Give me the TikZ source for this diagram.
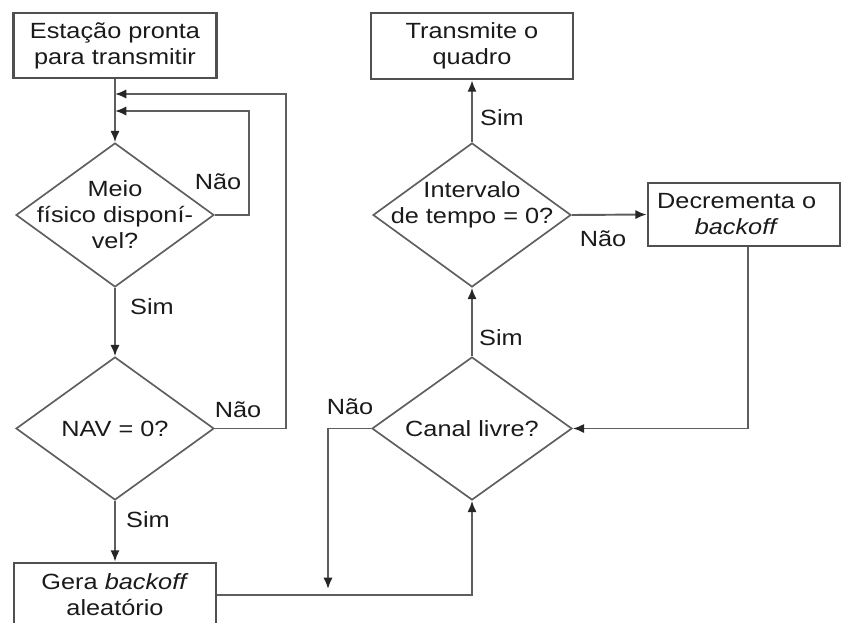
\documentclass[tikz,border=0pt]{standalone}
\usepackage{fontspec}
\setmainfont{Liberation Sans}[FakeStretch=1.15]
\usetikzlibrary{shapes.geometric,arrows.meta}
\definecolor{ln}{HTML}{5E5E5E}
\definecolor{bx}{HTML}{505050}
\definecolor{tx}{HTML}{1A1A1A}
\definecolor{ah}{HTML}{262626}
\begin{document}
\begin{tikzpicture}[x=0.75pt,y=-0.75pt,
  font=\fontsize{16.5}{19.5}\selectfont, text=tx,
  boxnode/.style={draw=bx, line width=2.1pt, rectangle, inner sep=0pt, align=center},
  dianode/.style={draw=ln, line width=1.25pt, diamond, inner sep=0pt},
  conn/.style={draw=ln, line width=1.45pt},
  arr/.style={conn, -{Latex[length=8.5pt,width=7pt,color=ah]}},
  lab/.style={inner sep=0pt}]
\useasboundingbox (0,0) rectangle (841,622);
\clip (0,0) rectangle (841,622);

% boxes
\node[boxnode, minimum width={203*0.75pt}, minimum height={65*0.75pt}] (s) at (115,45.5)
  {Estação pronta\\para transmitir};
\node[boxnode, minimum width={202*0.75pt}, minimum height={66*0.75pt}] (t) at (472,46)
  {Transmite o\\quadro};
\node[boxnode, minimum width={202*0.75pt}, minimum height={64*0.75pt}] (g) at (115,595)
  {Gera \textit{backoff}\\aleatório};
\node[boxnode, minimum width={192*0.75pt}, minimum height={63*0.75pt},
  label={[lab, align=center, xshift=-5.5pt]center:Decrementa o\\\textit{backoff}}] (dec) at (744,214.5) {};

% diamonds
\node[dianode, minimum width={198*0.75pt}, minimum height={144*0.75pt},
  label={[lab, align=center]center:Meio\\físico disponí-\\vel?}] (d1) at (115,215) {};
\node[dianode, minimum width={198*0.75pt}, minimum height={143*0.75pt},
  label={[lab, align=center]center:NAV = 0?}] (d2) at (115,428.5) {};
\node[dianode, minimum width={200*0.75pt}, minimum height={143*0.75pt},
  label={[lab, align=center]center:Canal livre?}] (d3) at (472,428.5) {};
\node[dianode, minimum width={198*0.75pt}, minimum height={144*0.75pt},
  label={[lab, align=center, yshift=8pt]center:Intervalo\\de tempo = 0?}] (d4) at (472,215) {};

% helper coordinates
\coordinate (in1) at (115,111);
\coordinate (in2) at (115,94);
\coordinate (r1) at (249,111);
\coordinate (r2) at (286,94);
\coordinate (nl) at (328,428.5);
\coordinate (nd) at (328,589);
\coordinate (dr) at (748,428.5);

% connectors
\draw[arr] (s.south) -- (d1.north);
\draw[arr] (d1.east) -| (r1) -- (in1);
\draw[arr] (d1.south) -- (d2.north);
\draw[arr] (d2.east) -| (r2) -- (in2);
\draw[arr] (d2.south) -- (g.north);
\draw[arr] (g.east) -| (d3.south);
\draw[arr] (d3.west) -- (nl) -- (nd);
\draw[arr] (dec.south -| dr) -- (dr) -- (d3.east);
\draw[arr] (d3.north) -- (d4.south);
\draw[arr] (d4.east) -- (dec.west);
\draw[arr] (d4.north) -- (t.south);

% branch labels
\node[lab] (l1) at (218,182) {Não};
\node[lab] (l2) at (152,307) {Sim};
\node[lab] (l3) at (238,410) {Não};
\node[lab] (l4) at (148,520) {Sim};
\node[lab] (l5) at (350,407) {Não};
\node[lab] (l6) at (501,338) {Sim};
\node[lab] (l7) at (603,239) {Não};
\node[lab] (l8) at (502,118) {Sim};
\end{tikzpicture}
\end{document}
